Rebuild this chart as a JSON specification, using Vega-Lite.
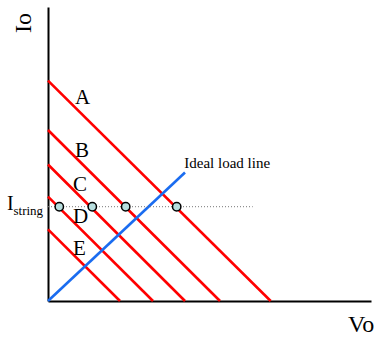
{
  "$schema": "https://vega.github.io/schema/vega-lite/v6.json",
  "width": 323,
  "height": 294,
  "autosize": "none",
  "padding": {"left": 48, "top": 7, "right": 8, "bottom": 37},
  "background": "white",
  "config": {
    "view": {"stroke": null},
    "axis": {"domainColor": "black", "domainWidth": 2, "ticks": false, "labels": false, "grid": false, "title": null},
    "text": {"font": "Liberation Serif", "color": "black"}
  },
  "datasets": {
    "red": [
      {"line": "A", "Vo": 0, "Io": 22.03}, {"line": "A", "Vo": 22.27, "Io": 0},
      {"line": "B", "Vo": 0, "Io": 17.1}, {"line": "B", "Vo": 17.2, "Io": 0},
      {"line": "C", "Vo": 0, "Io": 13.65}, {"line": "C", "Vo": 13.7, "Io": 0},
      {"line": "D", "Vo": 0, "Io": 10.43}, {"line": "D", "Vo": 10.5, "Io": 0},
      {"line": "E", "Vo": 0, "Io": 7.17}, {"line": "E", "Vo": 7.2, "Io": 0}
    ],
    "ideal": [{"Vo": 0, "Io": 0}, {"Vo": 13.7, "Io": 12.85}],
    "istring": [{"Vo": 0, "Io": 9.43}, {"Vo": 20.47, "Io": 9.43}],
    "points": [
      {"Vo": 1.13, "Io": 9.43}, {"Vo": 4.43, "Io": 9.43},
      {"Vo": 7.77, "Io": 9.43}, {"Vo": 12.87, "Io": 9.43}
    ],
    "labels": [
      {"label": "A", "Vo": 2.7, "Io": 19.7},
      {"label": "B", "Vo": 2.7, "Io": 14.4},
      {"label": "C", "Vo": 2.5, "Io": 11.0},
      {"label": "D", "Vo": 2.5, "Io": 7.8},
      {"label": "E", "Vo": 2.5, "Io": 4.6}
    ]
  },
  "encoding": {
    "x": {"field": "Vo", "type": "quantitative", "scale": {"domain": [0, 32.3], "nice": false, "zero": false}, "axis": {"orient": "bottom"}},
    "y": {"field": "Io", "type": "quantitative", "scale": {"domain": [0, 29.4], "nice": false, "zero": false}, "axis": {"orient": "left"}}
  },
  "layer": [
    {
      "data": {"name": "red"},
      "mark": {"type": "line", "color": "#ff0000", "strokeWidth": 2.6},
      "encoding": {"detail": {"field": "line"}}
    },
    {
      "data": {"name": "ideal"},
      "mark": {"type": "line", "color": "#1a6cf0", "strokeWidth": 2.6},
      "encoding": {}
    },
    {
      "data": {"name": "istring"},
      "mark": {"type": "line", "color": "#777777", "strokeWidth": 1, "strokeDash": [1, 2]},
      "encoding": {}
    },
    {
      "data": {"name": "points"},
      "mark": {"type": "point", "shape": "circle", "filled": true, "size": 70, "fill": "#b8dede", "fillOpacity": 1, "stroke": "black", "strokeWidth": 1.5}
    },
    {
      "data": {"name": "labels"},
      "mark": {"type": "text", "fontSize": 21, "align": "left", "baseline": "alphabetic"},
      "encoding": {"text": {"field": "label"}}
    },
    {
      "data": {"values": [{"t": "Ideal load line", "Vo": 13.63, "Io": 13.27}]},
      "mark": {"type": "text", "fontSize": 15, "align": "left", "baseline": "alphabetic"},
      "encoding": {"text": {"field": "t"}}
    },
    {
      "data": {"values": [{"t": "Io", "Vo": -2.4, "Io": 27.8}]},
      "mark": {"type": "text", "fontSize": 24, "align": "center", "baseline": "middle", "angle": 270},
      "encoding": {"text": {"field": "t"}}
    },
    {
      "data": {"values": [{"t": "Vo", "Vo": 30.0, "Io": -3.1}]},
      "mark": {"type": "text", "fontSize": 24, "align": "left", "baseline": "alphabetic"},
      "encoding": {"text": {"field": "t"}}
    },
    {
      "data": {"values": [{"t": "I", "Vo": -4.1, "Io": 9.1}]},
      "mark": {"type": "text", "fontSize": 20, "align": "left", "baseline": "alphabetic"},
      "encoding": {"text": {"field": "t"}}
    },
    {
      "data": {"values": [{"t": "string", "Vo": -3.45, "Io": 8.6}]},
      "mark": {"type": "text", "fontSize": 13, "align": "left", "baseline": "alphabetic"},
      "encoding": {"text": {"field": "t"}}
    }
  ]
}
